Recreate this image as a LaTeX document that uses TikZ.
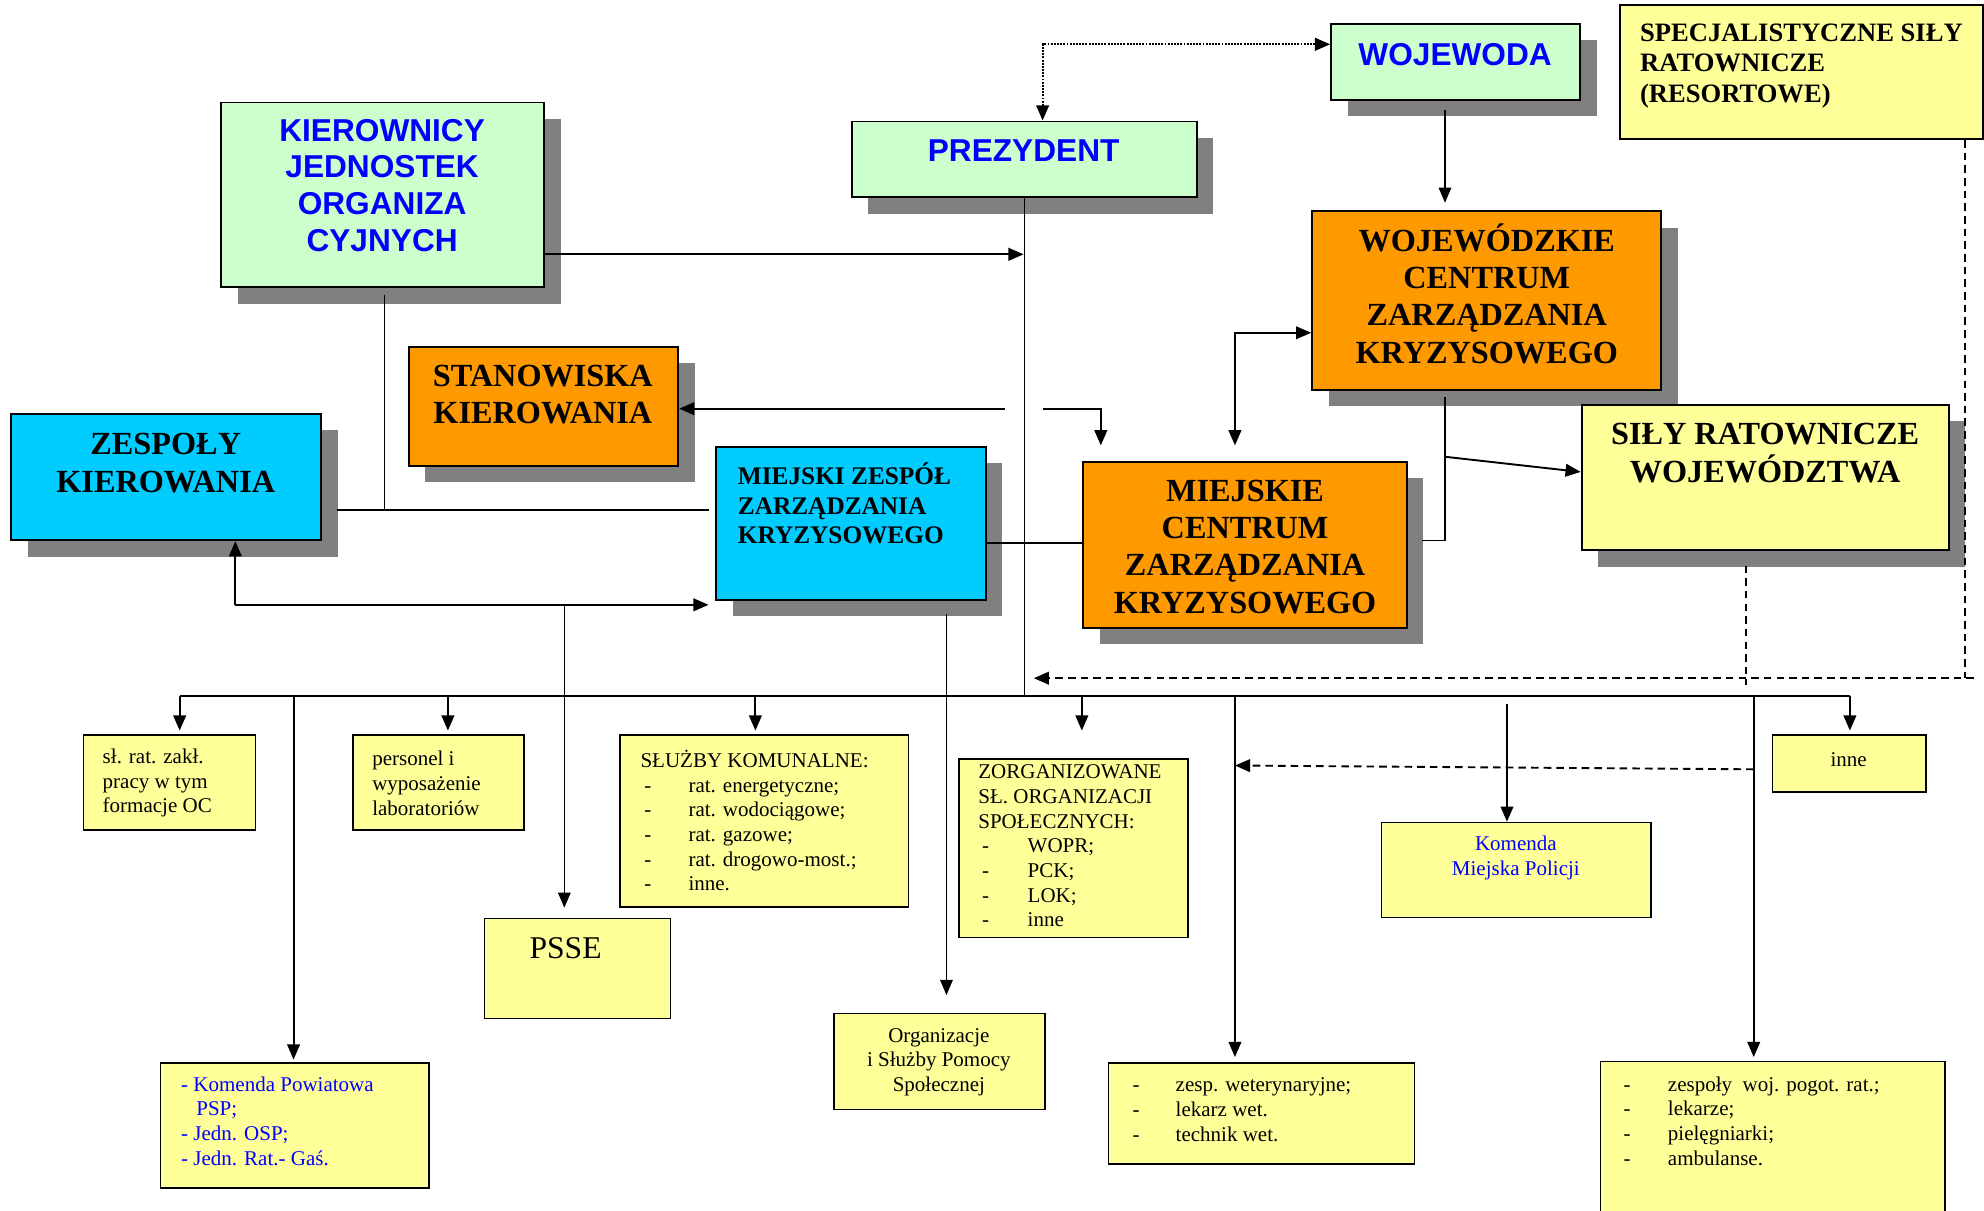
\documentclass[tikz,border=0pt]{standalone}
\usepackage{fontspec}
\setmainfont{Liberation Serif}
\setsansfont{Liberation Sans}
\usetikzlibrary{arrows.meta,shadows}
\definecolor{lgreen}{HTML}{CCFFCC}
\definecolor{orng}{HTML}{FF9900}
\definecolor{cyn}{HTML}{00CCFF}
\definecolor{ylw}{HTML}{FFFF99}
\definecolor{shgray}{HTML}{808080}
\definecolor{tblue}{HTML}{0000FF}
\newcommand{\dsh}[1][35pt]{\hspace*{3pt}\makebox[#1][l]{-}}
\begin{document}
\begin{tikzpicture}[x=1pt,y=-1pt,
  bigbox/.style={draw=black, line width=1.5pt, inner sep=0pt,
    drop shadow={fill=shgray, opacity=1, shadow xshift=13pt, shadow yshift=-13pt}},
  gbox/.style={bigbox, fill=lgreen},
  obox/.style={bigbox, fill=orng},
  cbox/.style={bigbox, fill=cyn},
  ybig/.style={bigbox, fill=ylw},
  ybox/.style={draw=black, line width=1.2pt, inner sep=0pt, fill=ylw},
  sz/.style 2 args={minimum width=#1pt, minimum height=#2pt},
  atitle/.style={inner sep=0pt, align=center, text=tblue, font=\sffamily\bfseries\fontsize{25}{29}\selectfont},
  stitle/.style={inner sep=0pt, align=center, font=\bfseries\fontsize{25.5}{29.5}\selectfont},
  mtitle/.style={inner sep=0pt, align=left, font=\bfseries\fontsize{20}{23.5}\selectfont},
  small/.style={inner sep=0pt, align=left, font=\fontsize{16.6}{19.5}\selectfont},
  ln/.style={line width=1.5pt},
  thn/.style={line width=1pt},
  tip/.tip={Triangle[length=12pt,width=10pt]},
  arr/.style={ln, -tip},
  darr/.style={ln, tip-tip},
  dotl/.style={line width=1.5pt, densely dotted, tip-tip},
  dashl/.style={line width=1.5pt, dash pattern=on 6pt off 4pt},
]
\useasboundingbox (0,0) rectangle (1568,957);
\clip (0,0) rectangle (1568,957);

% ---------- upper boxes ----------
\node[gbox, sz={255}{146}] (kier) at (302.5,154) {};
\node[atitle] (kiert) at (302,146.5) {KIEROWNICY\\JEDNOSTEK\\ORGANIZA\\CYJNYCH};

\node[gbox, sz={273}{60}] (prez) at (809.5,126) {};
\node[atitle] (prezt) at (809,119) {PREZYDENT};

\node[gbox, sz={197}{60}] (woj) at (1150.5,49) {};
\node[atitle] (wojt) at (1150,43) {WOJEWODA};

\node[ybox, line width=1.5pt, sz={287}{106}] (spec) at (1423.5,57) {};
\node[mtitle, font=\bfseries\fontsize{21}{24}\selectfont, anchor=west] (spect) at (1296,52) {SPECJALISTYCZNE SIŁY\\RATOWNICZE\\(RESORTOWE)};

\node[obox, sz={276}{141}] (wczk) at (1175,237.5) {};
\node[stitle] (wczkt) at (1175,232) {WOJEWÓDZKIE\\CENTRUM\\ZARZĄDZANIA\\KRYZYSOWEGO};

\node[obox, sz={213}{94}] (stan) at (429.5,321) {};
\node[stitle] (stant) at (429,312) {STANOWISKA\\KIEROWANIA};

\node[cbox, sz={245}{100}] (zesp) at (131.5,377) {};
\node[stitle] (zespt) at (131,366) {ZESPOŁY\\KIEROWANIA};

\node[cbox, sz={213}{121}] (mzzk) at (672.5,413.5) {};
\node[mtitle, anchor=west] (mzzkt) at (583,398) {MIEJSKI ZESPÓŁ\\ZARZĄDZANIA\\KRYZYSOWEGO};

\node[obox, sz={256}{131}] (mczk) at (984,430.5) {};
\node[stitle] (mczkt) at (984,432) {MIEJSKIE\\CENTRUM\\ZARZĄDZANIA\\KRYZYSOWEGO};

\node[ybig, sz={290}{115}] (silyw) at (1395,377.5) {};
\node[stitle] (silywt) at (1395,358) {SIŁY RATOWNICZE\\WOJEWÓDZTWA};

% ---------- lower boxes ----------
\node[ybox, sz={136}{75}] (slrat) at (134,618.5) {};
\node[small, anchor=west] (slratt) at (81,619) {sł. rat. zakł.\\pracy w tym\\formacje OC};

\node[ybox, sz={135}{75}] (pers) at (346.5,618.5) {};
\node[small, anchor=west] (perst) at (294,619) {personel i\\wyposażenie\\laboratoriów};

\node[ybox, sz={228}{136}] (sluz) at (604,649) {};
\node[small, anchor=west] (sluzt) at (506,648.5) {SŁUŻBY KOMUNALNE:\\\dsh rat. energetyczne;\\\dsh rat. wodociągowe;\\\dsh rat. gazowe;\\\dsh rat. drogowo-most.;\\\dsh inne.};

\node[ybox, sz={147}{79}] (psse) at (456.5,765.5) {};
\node[inner sep=0pt, font=\fontsize{25}{29}\selectfont] (psset) at (447,749) {PSSE};

\node[ybox, sz={181}{141}] (zorg) at (848.5,670.5) {};
\node[small, anchor=west] (zorgt) at (773,668.5) {ZORGANIZOWANE\\SŁ. ORGANIZACJI\\SPOŁECZNYCH:\\\dsh[36pt]WOPR;\\\dsh[36pt]PCK;\\\dsh[36pt]LOK;\\\dsh[36pt]inne};

\node[ybox, sz={167}{76}] (orgpom) at (742.5,839) {};
\node[small, align=center] (orgpomt) at (742,839.5) {Organizacje\\i Służby Pomocy\\Społecznej};

\node[ybox, sz={212}{99}] (kpow) at (233,889.5) {};
\node[small, anchor=west, text=tblue] (kpowt) at (143,886) {- Komenda Powiatowa\\\hspace*{12pt}PSP;\\- Jedn. OSP;\\- Jedn. Rat.- Gaś.};

\node[ybox, sz={242}{80}] (wet) at (997,880) {};
\node[small, anchor=west] (wett) at (892,877) {\dsh[34pt]zesp. weterynaryjne;\\\dsh[34pt]lekarz wet.\\\dsh[34pt]technik wet.};

\node[ybox, sz={213}{75}] (kmp) at (1198.5,687.5) {};
\node[small, align=center, text=tblue] (kmpt) at (1198,678) {Komenda\\Miejska Policji};

\node[ybox, sz={121}{45}] (inne) at (1461.5,603.5) {};
\node[small] (innet) at (1461,600) {inne};

\node[ybox, sz={272}{136}] (pogot) at (1401,907) {};
\node[small, anchor=west] (pogott) at (1280,886) {\dsh zespoły\ \ woj. pogot. rat.;\\\dsh lekarze;\\\dsh pielęgniarki;\\\dsh ambulanse.};

% ---------- coordinates ----------
\coordinate (dA) at (824,35);
\coordinate (wA) at (1142,87);
\coordinate (pv) at (809,201);
\coordinate (kb) at (304,233);
\coordinate (h1) at (266,403);
\coordinate (h2) at (560,403);
\coordinate (s1) at (794,323);
\coordinate (s2) at (824,323);
\coordinate (s3) at (870,352);
\coordinate (w1) at (976,352);
\coordinate (w2) at (976,263);
\coordinate (m1) at (779,429);
\coordinate (c0) at (1124,427);
\coordinate (c2) at (1142,314);
\coordinate (c3) at (1142,361);
\coordinate (z1) at (186,478);
\coordinate (z2) at (560,478);
\coordinate (p1) at (446,478);
\coordinate (o1) at (748,485);
\coordinate (busL) at (142,550);
\coordinate (busR) at (1462,550);
\coordinate (b1) at (232,550);
\coordinate (b2) at (354,550);
\coordinate (b3) at (597,550);
\coordinate (b4) at (855,550);
\coordinate (b5) at (976,550);
\coordinate (b6) at (1191,556);
\coordinate (b7) at (1386,550);
\coordinate (sd) at (1553,536);
\coordinate (sdR) at (1560,536);
\coordinate (sd2) at (817,536);
\coordinate (sw1) at (1380,447);
\coordinate (sw2) at (1380,541);
\coordinate (r1) at (1386,608);
\coordinate (r2) at (976,605);

% ---------- connectors ----------
\draw[dotl] (prez.north -| dA) |- (woj.west |- dA);
\draw[arr, thn, shorten >=6pt] (wA) -- (wA |- wczk.north);
\draw[arr] (kier.east |- pv) -- (pv);
\draw[thn] (prez.south) -- (prez.south |- busL);
\draw[thn] (kb) -- (kb |- h1);
\draw[ln] (h1) -- (h2);
\draw[arr] (s1) -- (stan.east |- s1);
\draw[arr] (s2) -| (s3);
\draw[darr] (w1) -- (w2) -- (wczk.west |- w2);
\draw[ln] (m1) -- (mczk.west |- m1);
\draw[thn] (c0) -| (c2);
\draw[arr] (c3) -- ([yshift=4.5pt]silyw.west);
\draw[arr] (z1) -- (z1 |- zesp.south);
\draw[arr] (z1) -- (z2);
\draw[arr, thn, shorten >=8pt] (p1) -- (p1 |- psse.north);
\draw[arr, thn, shorten >=14pt] (o1) -- (o1 |- orgpom.north);
\draw[ln] (busL) -- (busR);
\draw[arr, shorten >=3pt] (busL) -- (busL |- slrat.north);
\draw[arr, shorten >=2pt] (b1) -- (b1 |- kpow.north);
\draw[arr, shorten >=3pt] (b2) -- (b2 |- pers.north);
\draw[arr, shorten >=3pt] (b3) -- (b3 |- sluz.north);
\draw[arr, shorten >=22pt] (b4) -- (b4 |- zorg.north);
\draw[arr, shorten >=4pt] (b5) -- (b5 |- wet.north);
\draw[arr] (b6) -- (b6 |- kmp.north);
\draw[arr, shorten >=3pt] (b7) -- (b7 |- pogot.north);
\draw[arr, shorten >=3pt] (busR) -- (busR |- inne.north);
\draw[dashl] (spec.south -| sd) -- (sd);
\draw[dashl, -tip] (sdR) -- (sd2);
\draw[dashl] (sw1) -- (sw2);
\draw[dashl, -tip] (r1) -- (r2);
\end{tikzpicture}
\end{document}
